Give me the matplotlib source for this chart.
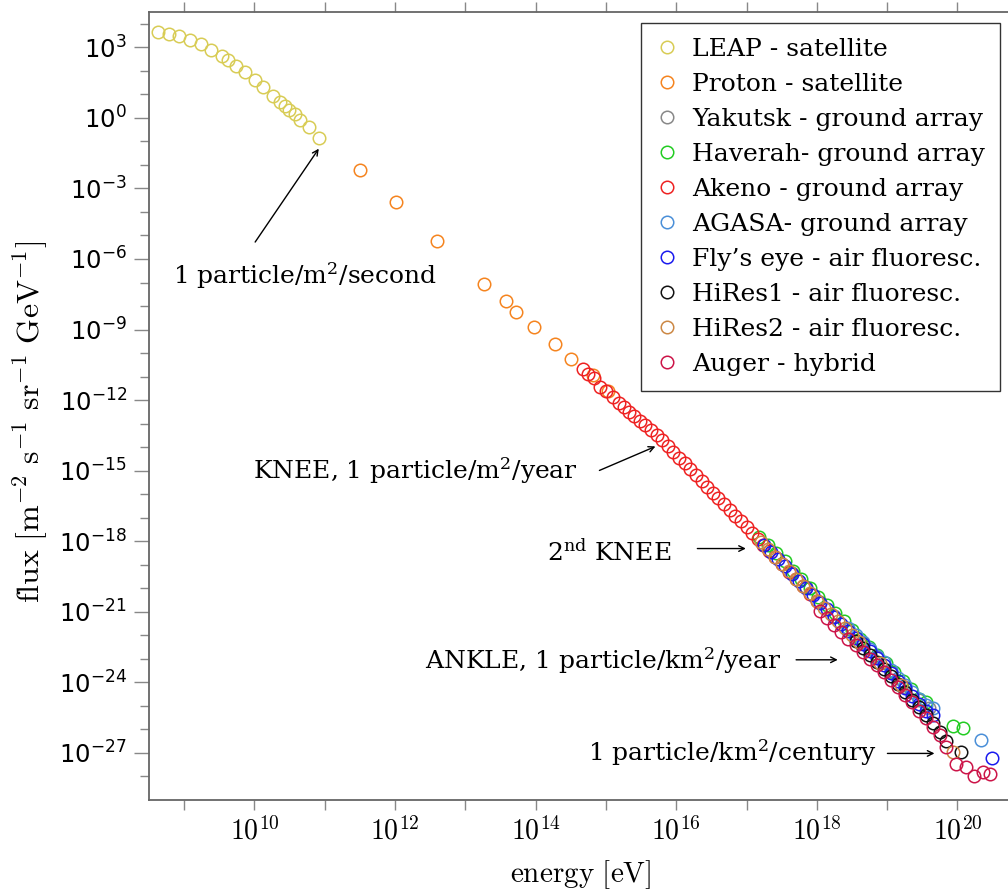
import matplotlib
matplotlib.use("Agg")
import matplotlib.pyplot as plt
import numpy as np

plt.rcParams['font.family'] = ['DejaVu Serif']
plt.rcParams['mathtext.fontset'] = 'dejavuserif'

# all values are log10(energy / eV) and log10(flux)
leap_e = [8.63, 8.79, 8.93, 9.09, 9.24, 9.38, 9.54, 9.63, 9.74, 9.87,
          10.01, 10.12, 10.27, 10.37, 10.43, 10.49, 10.57, 10.65, 10.77, 10.92]
leap_f = [3.64, 3.58, 3.47, 3.31, 3.13, 2.90, 2.63, 2.45, 2.22, 1.94,
          1.61, 1.30, 0.93, 0.69, 0.52, 0.35, 0.15, -0.08, -0.40, -0.86]

proton_e = [11.50, 12.01, 12.59, 13.27, 13.58, 13.72, 13.98, 14.27, 14.50, 14.81, 15.03]
proton_f = [-2.23, -3.59, -5.25, -7.07, -7.79, -8.26, -8.91, -9.63, -10.27, -10.95, -11.62]

yakutsk_e = [17.65, 17.85, 18.05, 18.25, 18.45, 18.65, 18.85, 19.05, 19.25, 19.45, 19.60]
yakutsk_f = [-19.33, -19.95, -20.57, -21.16, -21.75, -22.34, -22.93, -23.54, -24.20, -24.75, -25.10]

haverah_e = [17.18, 17.30, 17.42, 17.54, 17.66, 17.78, 17.90, 18.02, 18.14, 18.26, 18.38, 18.50,
             18.62, 18.74, 18.86, 18.98, 19.10, 19.22, 19.34, 19.46, 19.55, 19.93, 20.08]
haverah_f = [-17.83, -18.18, -18.52, -18.85, -19.25, -19.62, -19.98, -20.36, -20.70, -21.05, -21.40, -21.78,
             -22.14, -22.48, -22.85, -23.18, -23.55, -23.92, -24.30, -24.72, -24.85, -25.84, -25.95]

akeno_e = [14.68, 14.74, 14.83, 14.92, 15.00, 15.10, 15.19, 15.26, 15.33, 15.40, 15.48, 15.56,
           15.64, 15.72, 15.80, 15.88, 15.96, 16.04, 16.12, 16.20, 16.28, 16.36, 16.44, 16.52,
           16.60, 16.68, 16.76, 16.84, 16.92, 17.00, 17.08, 17.16, 17.24, 17.32, 17.40, 17.50,
           17.60, 17.70, 17.80, 17.90, 18.00]
akeno_f = [-10.68, -10.88, -11.05, -11.45, -11.62, -11.87, -12.13, -12.31, -12.49, -12.66, -12.87, -13.07,
           -13.27, -13.48, -13.70, -13.94, -14.19, -14.44, -14.69, -14.93, -15.18, -15.43, -15.68, -15.93,
           -16.17, -16.42, -16.67, -16.92, -17.16, -17.41, -17.66, -17.92, -18.17, -18.42, -18.67, -18.98,
           -19.30, -19.61, -19.92, -20.24, -20.55]

agasa_e = [18.45, 18.55, 18.65, 18.75, 18.85, 18.95, 19.05, 19.15, 19.25, 19.35, 19.45, 19.55, 19.65, 20.33]
agasa_f = [-21.70, -22.00, -22.28, -22.58, -22.88, -23.15, -23.48, -23.80, -24.12, -24.40, -24.70, -24.95, -25.10, -26.45]

flyseye_e = [17.25, 17.35, 17.45, 17.55, 17.65, 17.75, 17.85, 17.95, 18.05, 18.15, 18.25, 18.35, 18.45,
             18.55, 18.65, 18.75, 18.85, 18.95, 19.05, 19.15, 19.25, 19.35, 19.45, 19.55, 19.65, 20.49]
flyseye_f = [-18.15, -18.45, -18.76, -19.06, -19.38, -19.68, -20.00, -20.30, -20.62, -20.90, -21.20, -21.50, -21.80,
             -22.10, -22.38, -22.68, -22.98, -23.28, -23.58, -23.92, -24.24, -24.58, -24.90, -25.22, -25.40, -27.21]

hires1_e = [18.55, 18.65, 18.75, 18.85, 18.95, 19.05, 19.15, 19.25, 19.35, 19.45, 19.55, 19.65, 19.75, 19.84, 20.05]
hires1_f = [-22.24, -22.54, -22.83, -23.13, -23.42, -23.74, -24.07, -24.40, -24.73, -25.06, -25.39, -25.72, -26.10, -26.48, -26.97]

hires2_e = [17.20, 17.30, 17.40, 17.50, 17.60, 17.70, 17.80, 17.90, 18.00, 18.10, 18.20, 18.30, 18.40,
            18.50, 18.60, 18.90, 19.20, 19.93]
hires2_f = [-18.04, -18.35, -18.66, -18.97, -19.28, -19.59, -19.90, -20.21, -20.52, -20.82, -21.11, -21.41, -21.70,
            -22.00, -22.29, -23.18, -24.13, -26.97]

auger_e = [18.05, 18.15, 18.25, 18.35, 18.45, 18.55, 18.65, 18.75, 18.85, 18.95, 19.05, 19.15, 19.25,
           19.35, 19.45, 19.55, 19.65, 19.75, 19.84, 19.98, 20.12, 20.24, 20.36, 20.46]
auger_f = [-20.97, -21.26, -21.56, -21.85, -22.14, -22.42, -22.72, -23.00, -23.28, -23.55, -23.88, -24.20, -24.52,
           -24.85, -25.20, -25.52, -25.90, -26.25, -26.76, -27.47, -27.61, -27.97, -27.82, -27.89]

series = [
    ("LEAP - satellite", leap_e, leap_f, "#d8cc55"),
    ("Proton - satellite", proton_e, proton_f, "#f5841f"),
    ("Yakutsk - ground array", yakutsk_e, yakutsk_f, "#888888"),
    ("Haverah- ground array", haverah_e, haverah_f, "#22cc22"),
    ("Akeno - ground array", akeno_e, akeno_f, "#ee2222"),
    ("AGASA- ground array", agasa_e, agasa_f, "#4a8fd8"),
    ("Fly\u2019s eye - air fluoresc.", flyseye_e, flyseye_f, "#1a1aee"),
    ("HiRes1 - air fluoresc.", hires1_e, hires1_f, "#111111"),
    ("HiRes2 - air fluoresc.", hires2_e, hires2_f, "#cc8844"),
    ("Auger - hybrid", auger_e, auger_f, "#cc1448"),
]

fig = plt.figure(figsize=(10.08, 8.9), dpi=100)
ax = fig.add_axes([149 / 1008, 90 / 890, 878.75 / 1008, 788 / 890])

for label, e, f, c in series:
    ax.plot(10.0 ** np.array(e), 10.0 ** np.array(f), linestyle="none", marker="o",
            markersize=9, markerfacecolor="none", markeredgecolor=c, markeredgewidth=1.1,
            label=label)

ax.set_xscale("log")
ax.set_yscale("log")
ax.set_xlim(10.0 ** 8.5, 10.0 ** 21)
ax.set_ylim(10.0 ** -29, 10.0 ** 4.5)

# x ticks every decade, labels every second one
xt = list(range(9, 21))
ax.set_xticks([10.0 ** n for n in xt],
              labels=[("$10^{%d}$" % n) if n % 2 == 0 else "" for n in xt],
              math_fontfamily="cm", fontsize=20)
ax.xaxis.set_minor_locator(matplotlib.ticker.NullLocator())
yt = list(range(-27, 4, 3))
ax.set_yticks([10.0 ** n for n in yt], labels=["$10^{%d}$" % n for n in yt],
              math_fontfamily="dejavusans", fontsize=17.5)
ax.set_yticks([10.0 ** n for n in range(-28, 5)], minor=True)
ax.yaxis.set_minor_formatter(matplotlib.ticker.NullFormatter())

ax.tick_params(axis="x", which="both", direction="out", top=True, length=7, width=1,
               color="#888888", pad=5)
ax.tick_params(axis="y", which="major", direction="out", length=11, width=1, color="#888888", pad=5)
ax.tick_params(axis="y", which="minor", direction="out", length=6.5, width=1, color="#888888")
for s in ax.spines.values():
    s.set_color("#666666")
    s.set_linewidth(1.3)

ax.set_xlabel(r"$\mathrm{energy\ [eV]}$", math_fontfamily="cm", fontsize=21)
ax.xaxis.set_label_coords(0.4916, -0.095)
ax.xaxis.label.set_va("center")
ax.set_ylabel(r"$\mathrm{flux\ [m^{-2}\ s^{-1}\ sr^{-1}\ GeV^{-1}]}$", math_fontfamily="cm", fontsize=23)
ax.yaxis.set_label_coords(-0.135, 0.48)
ax.yaxis.label.set_va("center")

# annotations: (text, text position, arrow tail, arrow head, ha)
notes = [
    ("1 particle/m$^2$/second", (10.725, -6.70), (10.01, -5.28), (10.915, -1.31), "center"),
    ("KNEE, 1 particle/m$^2$/year", (14.595, -14.99), (14.907, -14.99), (15.704, -13.97), "right"),
    ("2$^{\\mathrm{nd}}$ KNEE", (15.93, -18.48), (16.30, -18.31), (16.99, -18.31), "right"),
    ("ANKLE, 1 particle/km$^2$/year", (17.496, -23.07), (17.705, -23.04), (18.297, -23.04), "right"),
    ("1 particle/km$^2$/century", (18.848, -26.99), (19.004, -27.02), (19.673, -27.02), "right"),
]
for txt, tpos, tail, head, ha in notes:
    ax.text(10.0 ** tpos[0], 10.0 ** tpos[1], txt, ha=ha, va="center", fontsize=18)
    ax.annotate("", xy=(10.0 ** head[0], 10.0 ** head[1]), xytext=(10.0 ** tail[0], 10.0 ** tail[1]),
                arrowprops=dict(arrowstyle="->", color="black", lw=1.0, shrinkA=0, shrinkB=0))

leg = ax.legend(loc="upper right", bbox_to_anchor=(1000 / 1008, 867 / 890),
                bbox_transform=fig.transFigure, borderaxespad=0, fontsize=18,
                numpoints=1, handlelength=0.9, handletextpad=0.55, labelspacing=0.48,
                fancybox=False, framealpha=1, edgecolor="#333333", borderpad=0.6)
leg.get_frame().set_linewidth(1.0)

fig.savefig("out.png", dpi=100)
